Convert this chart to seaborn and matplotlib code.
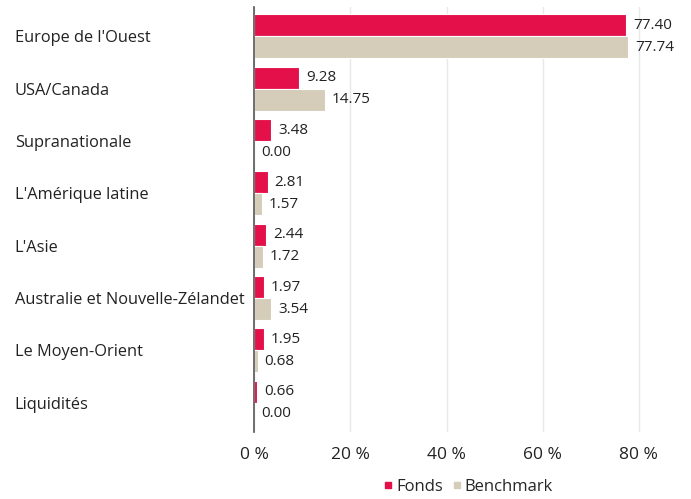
import matplotlib
matplotlib.use('Agg')
import matplotlib.pyplot as plt
import seaborn as sns
import pandas as pd
from matplotlib.lines import Line2D

regions = ["Europe de l'Ouest", 'USA/Canada', 'Supranationale', "L'Amérique latine",
           "L'Asie", 'Australie et Nouvelle-Zélandet', 'Le Moyen-Orient', 'Liquidités']
fonds = [77.40, 9.28, 3.48, 2.81, 2.44, 1.97, 1.95, 0.66]
benchmark = [77.74, 14.75, 0.00, 1.57, 1.72, 3.54, 0.68, 0.00]
series = ['Fonds', 'Benchmark']
colors = ['#e3104a', '#d5cdba']

df = pd.DataFrame({
    'region': regions * 2,
    'value': fonds + benchmark,
    'serie': ['Fonds'] * len(regions) + ['Benchmark'] * len(regions),
})

sns.set_style('white')
plt.rcParams['font.family'] = ['Open Sans', 'DejaVu Sans']

fig, ax = plt.subplots(figsize=(6.91, 4.99), dpi=100)
sns.barplot(df, y='region', x='value', hue='serie', orient='h',
            palette=dict(zip(series, colors)), saturation=1, width=0.84, ax=ax,
            edgecolor='white', linewidth=0.8, legend=False)

for cont in ax.containers:
    ax.bar_label(cont, fmt='%.2f', padding=5, fontsize=11, color='#222222')

ax.set_xlim(0, 88)
ax.set_ylim(7.55, -0.55)
ax.set_xticks([0, 20, 40, 60, 80])
ax.set_xticklabels([f'{t} %' for t in [0, 20, 40, 60, 80]], fontsize=12.5, color='#222222')
ax.tick_params(axis='x', length=0, pad=11)
ax.tick_params(axis='y', length=0, pad=8)
for lab in ax.get_yticklabels():
    lab.set_fontsize(11.8)
    lab.set_color('#222222')
    lab.set_horizontalalignment('left')
    lab.set_x(-0.54)
ax.xaxis.grid(True, color='#e8e8e8', linewidth=1)
ax.set_axisbelow(True)
ax.set_xlabel('')
ax.set_ylabel('')
for s in ['top', 'right', 'bottom']:
    ax.spines[s].set_visible(False)
ax.spines['left'].set_color('#555555')
ax.spines['left'].set_linewidth(1.2)

handles = [Line2D([], [], marker='s', linestyle='', color=c, markersize=4.5) for c in colors]
fig.legend(handles, series, loc='lower center', bbox_to_anchor=(0.675, -0.022), ncol=2,
           frameon=False, fontsize=12, handletextpad=0.0, columnspacing=0.3,
           handlelength=1.0)

fig.subplots_adjust(left=0.368, right=0.98, top=0.985, bottom=0.135)
fig.savefig('out.png', dpi=100)
